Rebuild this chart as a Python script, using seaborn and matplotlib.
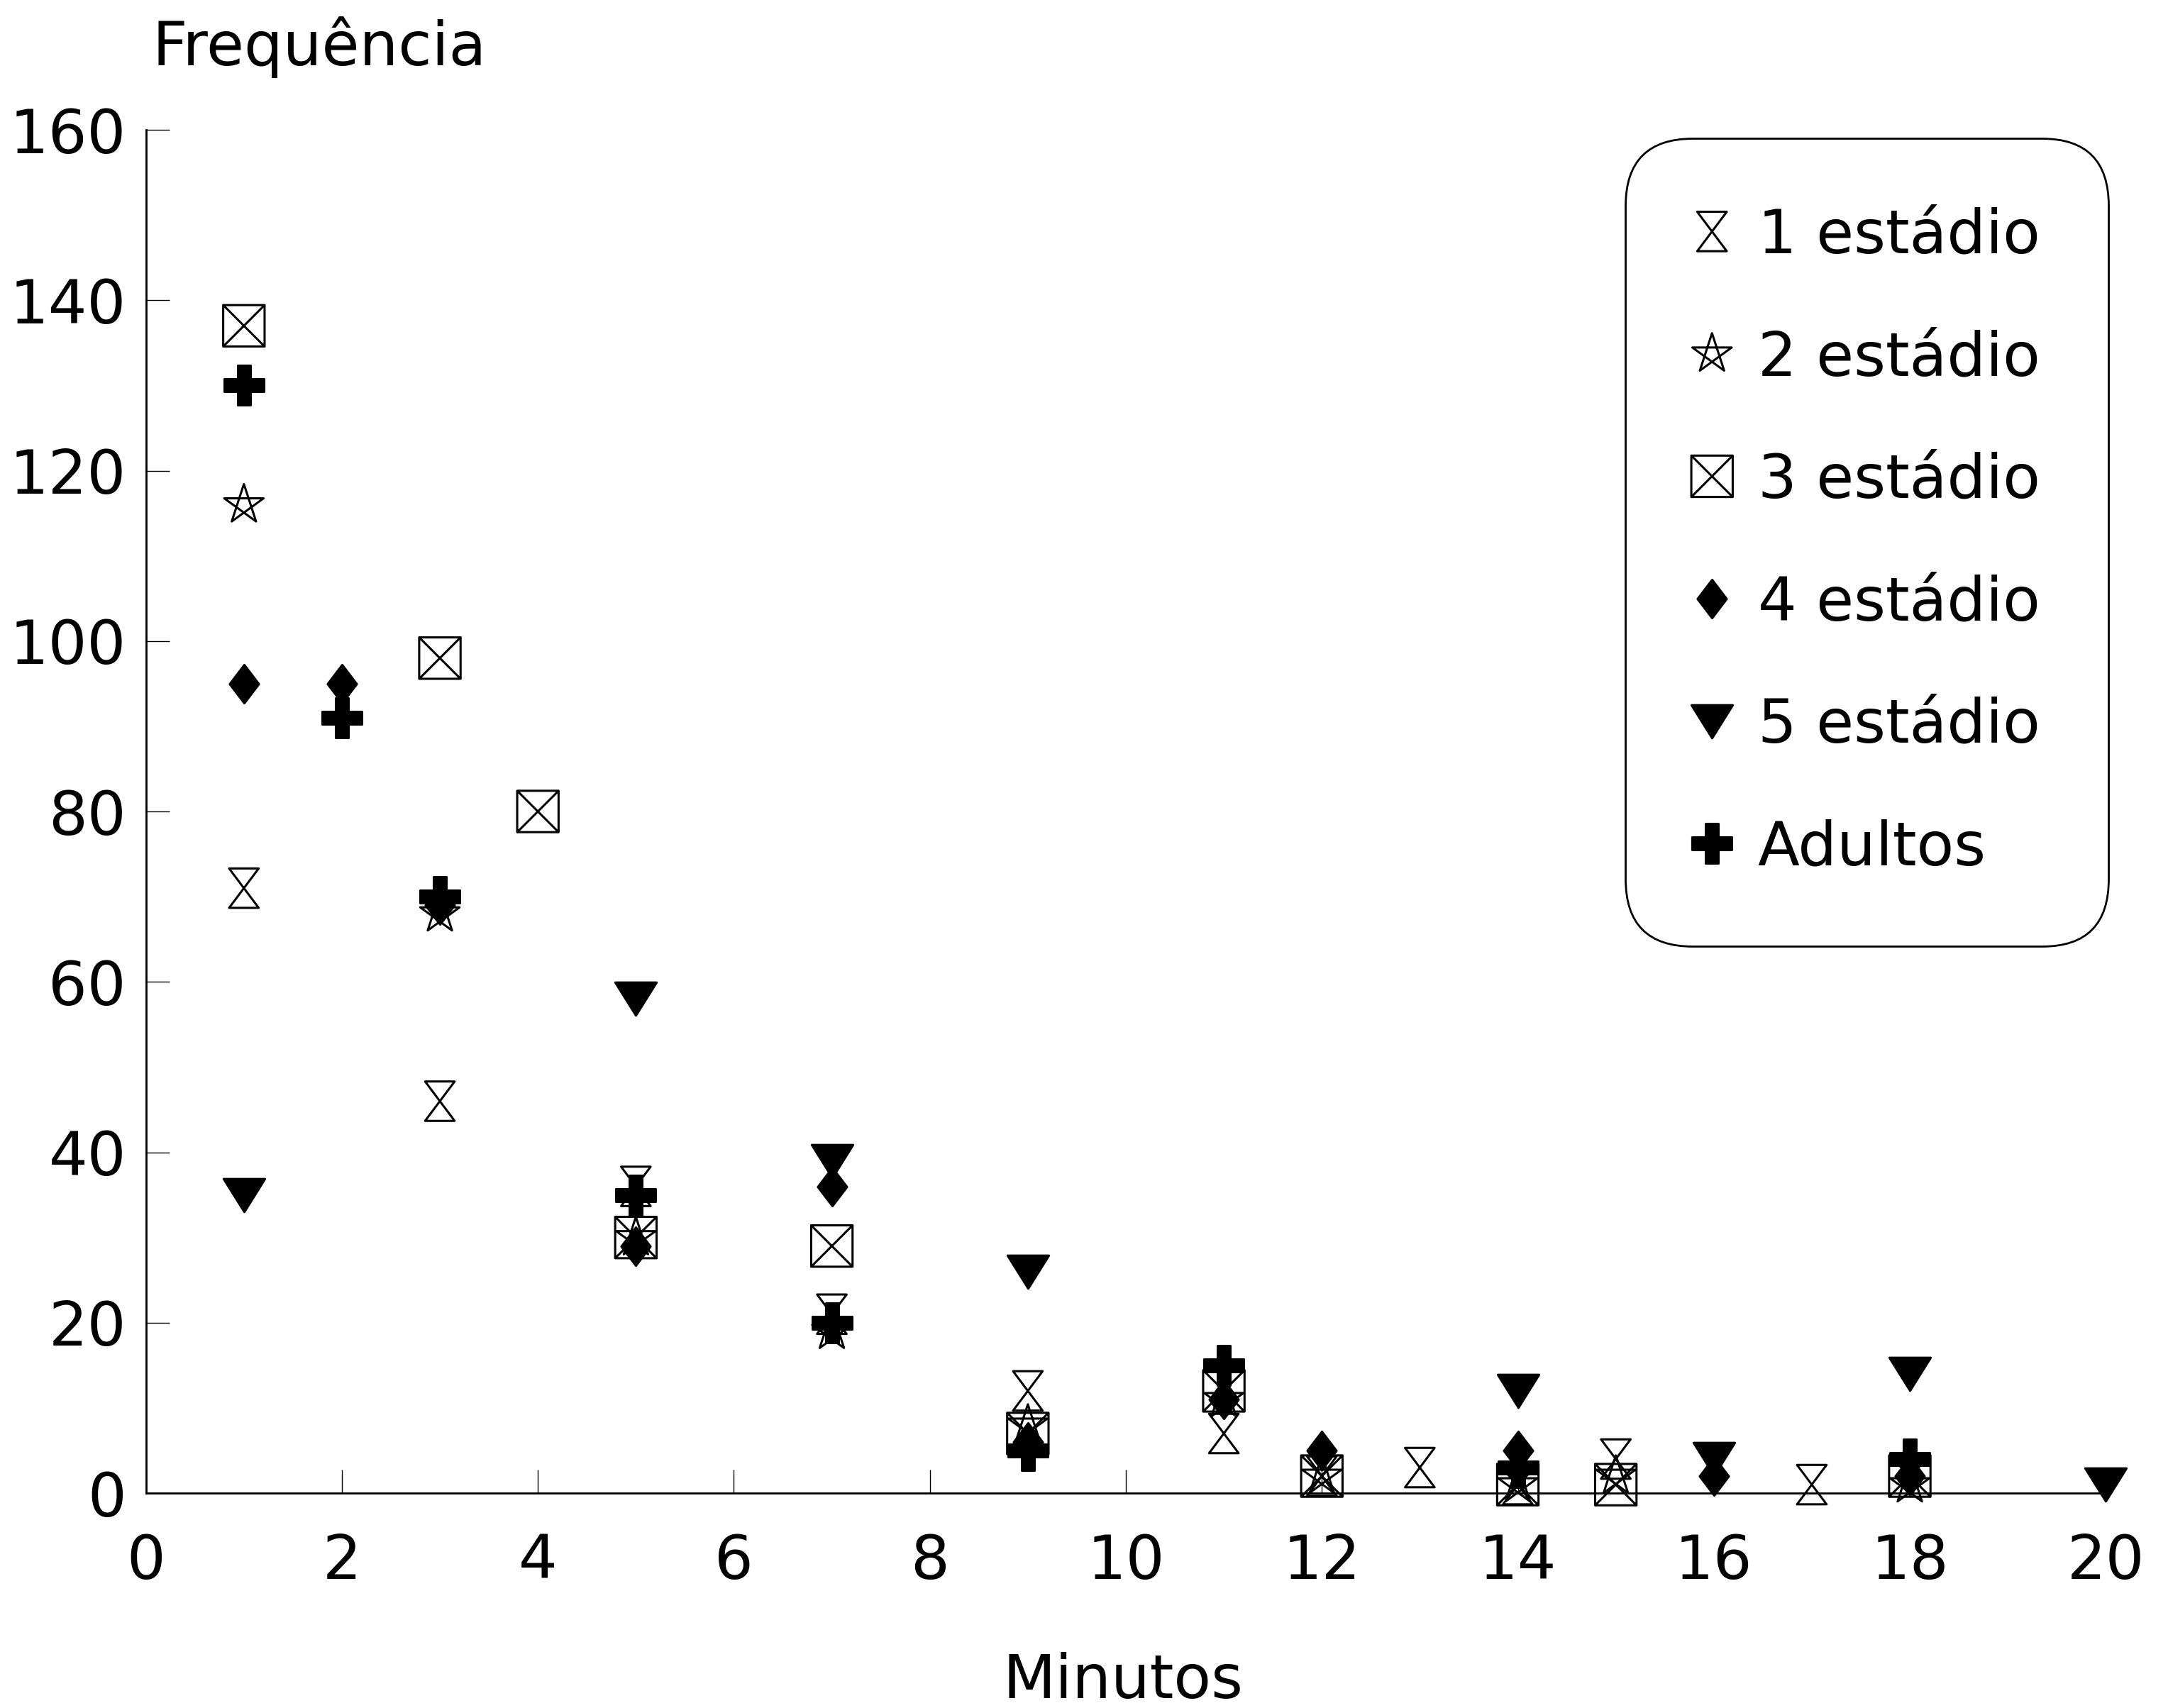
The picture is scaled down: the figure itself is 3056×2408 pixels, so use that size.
import numpy as np
import seaborn as sns
import matplotlib.pyplot as plt
from matplotlib.path import Path

# valores (minutos x frequência)
x_est1 = [1, 3, 5, 7, 9, 11, 12, 13, 14, 15, 17]
y_est1 = [71, 46, 36, 21, 12, 7, 2, 3, 1, 4, 1]
x_est2 = [1, 3, 5, 7, 9, 11, 12, 14, 15, 18]
y_est2 = [116, 68, 30, 19, 8, 11, 2, 1, 2, 1]
x_est3 = [1, 3, 4, 5, 7, 9, 11, 12, 14, 15, 18]
y_est3 = [137, 98, 80, 30, 29, 7, 12, 2, 1, 1, 2]
x_est4 = [1, 2, 3, 5, 7, 9, 11, 12, 14, 16, 18]
y_est4 = [95, 95, 69, 29, 36, 6, 11, 5, 5, 2, 2]
x_est5 = [1, 5, 7, 9, 14, 16, 18, 20]
y_est5 = [35, 58, 39, 26, 12, 4, 14, 1]
x_adult = [1, 2, 3, 5, 7, 9, 11, 14, 18]
y_adult = [130, 91, 70, 35, 20, 5, 15, 3, 4]

labels = ["1 estádio", "2 estádio", "3 estádio", "4 estádio", "5 estádio", "Adultos"]
x_ticks = [0, 2, 4, 6, 8, 10, 12, 14, 16, 18, 20]
y_ticks = [0, 20, 40, 60, 80, 100, 120, 140, 160]

# marcadores desenhados à mão
M, L, C = Path.MOVETO, Path.LINETO, Path.CLOSEPOLY
hourglass = Path([(-0.75, 1), (0.75, 1), (-0.75, -1), (0.75, -1), (-0.75, 1)],
                 [M, L, L, L, C])
ang = np.deg2rad(90 + 144 * np.arange(5))
star_v = list(zip(np.cos(ang), np.sin(ang))) + [(0, 1)]
pentagram = Path(star_v, [M, L, L, L, L, C])
box_x = Path([(-1, -1), (1, -1), (1, 1), (-1, 1), (-1, -1),
              (-1, -1), (1, 1), (-1, 1), (1, -1)],
             [M, L, L, L, C, M, L, M, L])
diamond = Path([(0, 1), (0.76, 0), (0, -1), (-0.76, 0), (0, 1)], [M, L, L, L, C])
tri_down = Path([(-1, 0.8), (1, 0.8), (0, -0.8), (-1, 0.8)], [M, L, L, C])

sns.set_style("white")
plt.rcParams['font.family'] = ['DejaVu Sans']
plt.rcParams['text.color'] = 'black'

fig = plt.figure(figsize=(15.28, 12.04), dpi=200)
ax = fig.add_axes([0.0673, 0.1258, 0.904, 0.7982])

series = [
    (labels[0], x_est1, y_est1, hourglass, 20, False),
    (labels[1], x_est2, y_est2, pentagram, 21, False),
    (labels[2], x_est3, y_est3, box_x, 21, False),
    (labels[3], x_est4, y_est4, diamond, 19.5, True),
    (labels[4], x_est5, y_est5, tri_down, 21, True),
    (labels[5], x_adult, y_adult, "P", 20.5, True),
]
for lab, xs, ys, mk, ms, filled in series:
    sns.scatterplot(x=xs, y=ys, marker=mk, s=ms ** 2, color="black",
                    edgecolor="black", linewidth=1.1, label=lab, ax=ax,
                    zorder=3)
    coll = ax.collections[-1]
    coll.set_clip_on(False)
    if not filled:
        coll.set_facecolor("none")

ax.set_xlim(0, 20)
ax.set_ylim(0, 160)
ax.set_xticks(x_ticks)
ax.set_yticks(y_ticks)
ax.set_xlabel("")
ax.set_ylabel("")
sns.despine(ax=ax)
for sp in ["left", "bottom"]:
    ax.spines[sp].set_linewidth(1.0)
    ax.spines[sp].set_color("black")
ax.tick_params(axis="both", direction="in", length=12, width=0.5,
               colors="black", labelcolor="black", labelsize=31,
               bottom=True, left=True)
ax.tick_params(axis="x", pad=20)
ax.tick_params(axis="y", pad=10)

fig.text(0.0702, 0.9618, "Frequência", fontsize=31, va="baseline", ha="left",
         color="black")
fig.text(0.518, 0.006, "Minutos", fontsize=31, va="baseline", ha="center",
         color="black")

leg = ax.legend(loc="upper right", bbox_to_anchor=(0.9726, 0.919),
                bbox_transform=fig.transFigure, borderaxespad=0,
                fontsize=31, frameon=True, fancybox=True,
                handlelength=0.6, handletextpad=0.45, labelspacing=1.04,
                borderpad=1.12, scatteryoffsets=[0.5])
for t in leg.get_texts():
    t.set_color("black")
frame = leg.get_frame()
frame.set_edgecolor("black")
frame.set_linewidth(1.0)
frame.set_alpha(1)
frame.set_boxstyle("round", pad=0, rounding_size=1.1)

fig.savefig("out.png", dpi=200, facecolor="white")
